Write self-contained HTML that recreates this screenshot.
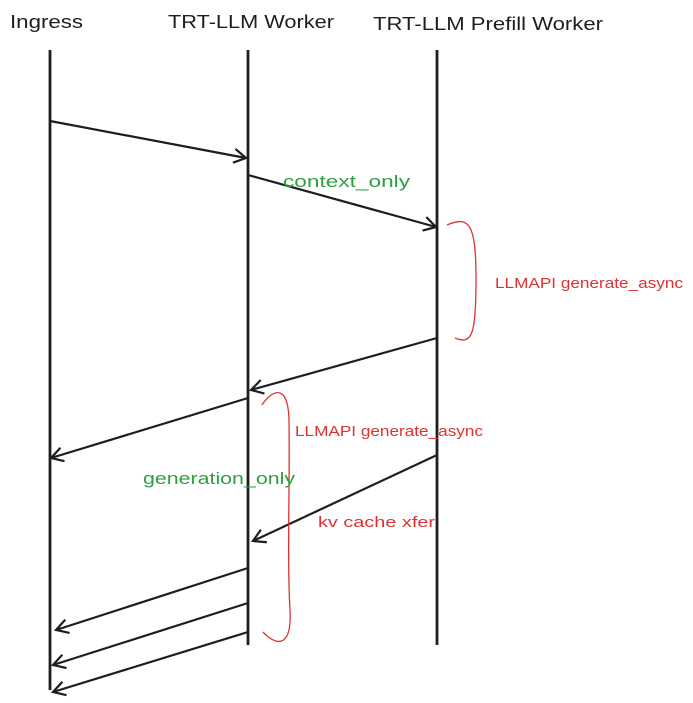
<!DOCTYPE html>
<html><head><meta charset="utf-8"><style>
html,body{margin:0;padding:0;background:#fff;width:693px;height:703px;overflow:hidden}
text{font-family:"Liberation Sans",sans-serif}
</style></head><body>
<svg width="693" height="703" viewBox="0 0 693 703">
<defs><marker id="ah" markerWidth="16" markerHeight="16" refX="13" refY="8" orient="auto" markerUnits="userSpaceOnUse"><path d="M1,1 L13,8 L1,15" fill="none" stroke="#1e1e1e" stroke-width="2.2"/></marker></defs>
<g font-size="18" fill="#1e1e1e">
<text x="10" y="28" textLength="73" lengthAdjust="spacingAndGlyphs">Ingress</text>
<text x="168" y="28" textLength="166" lengthAdjust="spacingAndGlyphs">TRT-LLM Worker</text>
<text x="373" y="30" textLength="230" lengthAdjust="spacingAndGlyphs">TRT-LLM Prefill Worker</text>
</g>
<g stroke="#1e1e1e" stroke-width="2.8" fill="none">
<line x1="50" y1="50" x2="50" y2="690"/>
<line x1="248" y1="50" x2="248" y2="645"/>
<line x1="437" y1="50" x2="437" y2="645"/>
</g>
<g stroke="#1e1e1e" stroke-width="2.2" fill="none" marker-end="url(#ah)">
<line x1="50" y1="121" x2="246" y2="158"/>
<line x1="248" y1="175" x2="436" y2="227"/>
<line x1="437" y1="338" x2="251" y2="390"/>
<line x1="248" y1="398" x2="51" y2="458"/>
<line x1="437" y1="455" x2="253" y2="541"/>
<line x1="248" y1="568" x2="56" y2="630"/>
<line x1="248" y1="603" x2="53" y2="665"/>
<line x1="248" y1="632" x2="53" y2="692"/>
</g>
<g stroke="#e03131" stroke-width="1.3" fill="none">
<path d="M447,225 C470,215 476,225 476,280 C476,335 472,345 455,338"/>
<path d="M262,405 C270,392 288,380 289,420 C290,480 287,560 290,610 C292,650 275,645 263,632"/>
</g>
<g>
<text x="283" y="187" fill="#2f9e44" font-size="17" textLength="127" lengthAdjust="spacingAndGlyphs">context_only</text>
<text x="495" y="288" fill="#e03131" font-size="15" textLength="188" lengthAdjust="spacingAndGlyphs">LLMAPI generate_async</text>
<text x="295" y="436" fill="#e03131" font-size="15" textLength="188" lengthAdjust="spacingAndGlyphs">LLMAPI generate_async</text>
<text x="143" y="484" fill="#2f9e44" font-size="17" textLength="152" lengthAdjust="spacingAndGlyphs">generation_only</text>
<text x="318" y="527" fill="#e03131" font-size="15" textLength="117" lengthAdjust="spacingAndGlyphs">kv cache xfer</text>
</g>
</svg>
</body></html>
